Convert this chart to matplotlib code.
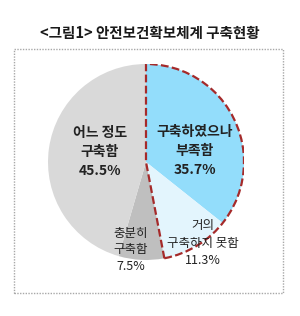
import matplotlib
matplotlib.use("Agg")
import matplotlib.pyplot as plt
from matplotlib.patches import Wedge, Rectangle

plt.rcParams['font.family'] = ['Noto Sans CJK KR', 'DejaVu Sans']

title = "<그림1> 안전보건확보체계 구축현황"
categories = ["구축하였으나\n부족함", "거의\n구축하지 못함", "충분히\n구축함", "어느 정도\n구축함"]
values = [35.7, 11.3, 7.5, 45.5]
colors = ["#93DDFB", "#E3F5FD", "#BFBFBF", "#D9D9D9"]

W, H = 300, 316
fig = plt.figure(figsize=(W / 100, H / 100), dpi=100)

def fx(px):
    return px / W

def fy(py):
    return 1 - py / H

# outer dotted frame
fig.add_artist(Rectangle((fx(14), fy(293)), fx(283) - fx(14), fy(49) - fy(293),
                         transform=fig.transFigure, fill=False,
                         edgecolor="#A8A8A8", lw=1.0, ls=(0, (1, 1))))

fig.text(0.5, fy(33), title, ha="center", va="center", fontsize=10.5,
         fontweight="bold", color="#1a1a1a")

cx, cy, r = 146, 162, 98
ax = fig.add_axes([fx(cx - r), fy(cy + r), 2 * r / W, 2 * r / H])
wedges, _ = ax.pie(values, colors=colors, startangle=90, counterclock=False,
                   wedgeprops=dict(linewidth=0))
ax.set_xlim(-1, 1)
ax.set_ylim(-1, 1)
ax.set_aspect("equal")
ax.axis("off")

# dashed outline around the two "insufficient" slices
total = sum(values)
t_end = 90
t_start = 90 - 360 * (values[0] + values[1]) / total
ax.add_patch(Wedge((0, 0), 1.0, t_start, t_end, fill=False,
                   edgecolor="#A52A2A", lw=1.6, ls=(0, (3.5, 1.5))))

labels = [f"{c}\n{v}%" for c, v in zip(categories, values)]
label_pos = [(195, 151), (203, 243), (131, 250), (100, 152)]
label_size = [10, 9, 9, 10]
label_weight = ["bold", "normal", "normal", "bold"]
label_ls = [1.45, 1.4, 1.4, 1.45]
for lab, (px, py), fs, fw, ls in zip(labels, label_pos, label_size, label_weight, label_ls):
    fig.text(fx(px), fy(py), lab, ha="center", va="center", fontsize=fs,
             fontweight=fw, color="#222222", linespacing=ls)

fig.savefig("out.png", dpi=100, facecolor="white")
